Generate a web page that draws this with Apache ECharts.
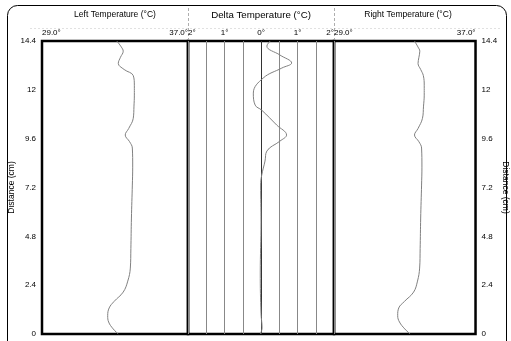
<!DOCTYPE html>
<html><head><meta charset="utf-8">
<script src="https://cdn.jsdelivr.net/npm/echarts@6/dist/echarts.min.js"></script>
<style>html,body{margin:0;padding:0;background:#fff}#c{width:511px;height:341px}</style>
</head><body><div id="c"></div>
<script>
// Distance (cm) and temperatures (°C)
const distLeft  = [14.4, 14.1, 13.9, 13.6, 13.3, 13.0, 12.7, 12.2, 11.74, 11.2, 10.6, 10.1, 9.78, 9.45, 9.14, 8.2, 7.32, 5.7, 4.2, 3.24, 2.6, 2.06, 1.6, 1.28, 0.9, 0.59, 0.25, 0];
const tempLeft  = [33.1, 33.35, 33.45, 33.3, 33.18, 33.5, 34.0, 34.06, 34.06, 34.04, 34.0, 33.75, 33.56, 33.8, 33.95, 33.97, 33.95, 33.9, 33.87, 33.84, 33.7, 33.45, 32.95, 32.68, 32.6, 32.65, 32.9, 33.18];
const distRight = [14.4, 14.1, 13.9, 13.6, 13.3, 13.0, 12.7, 12.2, 11.74, 11.2, 10.6, 10.1, 9.78, 9.45, 9.14, 8.2, 7.32, 5.7, 4.2, 3.24, 2.6, 2.06, 1.6, 1.28, 0.9, 0.59, 0.25, 0];
const tempRight = [33.55, 33.75, 33.85, 33.8, 33.75, 33.9, 34.05, 34.1, 34.1, 34.06, 34.0, 33.75, 33.55, 33.8, 33.95, 33.97, 33.95, 33.9, 33.87, 33.84, 33.72, 33.5, 32.98, 32.66, 32.6, 32.7, 33.0, 33.3];
const distDelta = [14.4, 14.15, 13.71, 13.32, 13.07, 12.58, 11.84, 11.25, 11.0, 10.27, 9.78, 9.48, 8.99, 8.5, 7.81, 7.32, 5.5, 3.0, 1.0, 0.3, 0];
const tempDelta = [0.25, 0.16, 0.52, 0.84, 0.57, 0.06, -0.21, -0.16, 0.02, 0.43, 0.70, 0.52, 0.16, 0.11, 0.02, -0.01, 0.0, -0.02, 0.0, 0.03, -0.02];
const distTicks = [0, 2.4, 4.8, 7.2, 9.6, 12, 14.4];
const tempRange = [29, 37];
const deltaRange = [-2, 2];

const FONT = '"Liberation Sans", Arial, sans-serif';
const chart = echarts.init(document.getElementById('c'), null, {renderer: 'canvas'});

function tempAxis(gi) {
  return {
    type: 'value', gridIndex: gi, position: 'top', min: tempRange[0], max: tempRange[1], interval: 1,
    axisLine: {show: false}, axisTick: {show: false}, splitLine: {show: false},
    axisLabel: {
      fontFamily: FONT, fontSize: 8, color: '#000', margin: 4,
      alignMinLabel: 'left', alignMaxLabel: 'right',
      formatter: v => (v === tempRange[0] || v === tempRange[1]) ? v.toFixed(1) + '°' : ''
    }
  };
}
function distAxis(gi, pos, showLabel) {
  return {
    type: 'value', gridIndex: gi, position: pos, min: 0, max: distTicks[distTicks.length - 1], interval: 2.4,
    axisLine: {show: false}, axisTick: {show: false}, splitLine: {show: false},
    axisLabel: {show: showLabel, fontFamily: FONT, fontSize: 8, color: '#000', margin: 6,
      formatter: v => String(+v.toFixed(1))},
    name: showLabel ? 'Distance (cm)' : '', nameLocation: 'middle',
    nameGap: pos === 'left' ? 24 : 17, nameRotate: pos === 'left' ? 90 : -90,
    nameTextStyle: {fontFamily: FONT, fontSize: 8.5, color: '#000'}
  };
}
const gridBase = {top: 41, height: 293, width: 146, show: true, borderColor: '#000', borderWidth: 2.5, containLabel: false};
const lineStyle = {color: '#808080', width: 1};
const zeroColors = ['#888','#888','#888','#888','#333','#888','#888','#888','#888'];

chart.setOption({
  animation: false,
  backgroundColor: '#fff',
  grid: [
    Object.assign({left: 42}, gridBase),
    Object.assign({left: 188}, gridBase),
    Object.assign({left: 334}, gridBase)
  ],
  xAxis: [
    tempAxis(0),
    {
      type: 'value', gridIndex: 1, position: 'top', min: deltaRange[0], max: deltaRange[1], interval: 0.5,
      axisLine: {show: false}, axisTick: {show: false},
      splitLine: {show: true, lineStyle: {color: zeroColors, width: 1}},
      axisLabel: {fontFamily: FONT, fontSize: 8, color: '#000', margin: 4,
        alignMinLabel: 'left', alignMaxLabel: 'right',
        formatter: v => Number.isInteger(v) ? Math.abs(v) + '°' : ''}
    },
    tempAxis(2)
  ],
  yAxis: [distAxis(0, 'left', true), distAxis(1, 'left', false), distAxis(2, 'right', true)],
  series: [
    {type: 'line', xAxisIndex: 0, yAxisIndex: 0, smooth: 0.4, showSymbol: false, lineStyle,
      data: distLeft.map((d, i) => [tempLeft[i], d])},
    {type: 'line', xAxisIndex: 1, yAxisIndex: 1, smooth: 0.4, showSymbol: false, lineStyle,
      data: distDelta.map((d, i) => [tempDelta[i], d])},
    {type: 'line', xAxisIndex: 2, yAxisIndex: 2, smooth: 0.4, showSymbol: false, lineStyle,
      data: distRight.map((d, i) => [tempRight[i], d])}
  ],
  graphic: [
    {type: 'rect', shape: {x: 7.5, y: 5.5, width: 499, height: 350, r: 10}, style: {fill: 'none', stroke: '#000', lineWidth: 1}, silent: true},
    {type: 'line', shape: {x1: 30, y1: 28.5, x2: 500, y2: 28.5}, style: {stroke: '#ccc', lineWidth: 0.6, lineDash: [2, 2]}},
    {type: 'line', shape: {x1: 188.5, y1: 8, x2: 188.5, y2: 40}, style: {stroke: '#999', lineWidth: 0.8, lineDash: [3, 2]}},
    {type: 'line', shape: {x1: 334.5, y1: 8, x2: 334.5, y2: 40}, style: {stroke: '#999', lineWidth: 0.8, lineDash: [3, 2]}},
    {type: 'text', x: 115, y: 15, style: {text: 'Left Temperature (°C)', font: '8.5px ' + FONT, fill: '#000', textAlign: 'center', textVerticalAlign: 'middle'}},
    {type: 'text', x: 261, y: 15, style: {text: 'Delta Temperature (°C)', font: '9.7px ' + FONT, fill: '#000', textAlign: 'center', textVerticalAlign: 'middle'}},
    {type: 'text', x: 408, y: 15, style: {text: 'Right Temperature (°C)', font: '8.5px ' + FONT, fill: '#000', textAlign: 'center', textVerticalAlign: 'middle'}}
  ]
});
</script></body></html>
